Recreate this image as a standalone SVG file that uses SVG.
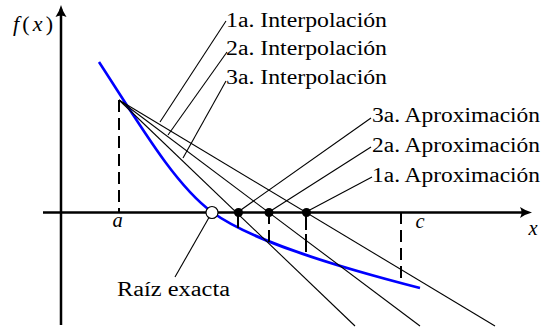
<svg xmlns="http://www.w3.org/2000/svg" width="546" height="327" viewBox="0 0 546 327">
<style>
.axis{stroke:#000;stroke-width:2.5;fill:none}
.thin{stroke:#000;stroke-width:1.1;fill:none}
.dash{stroke:#000;stroke-width:2;fill:none;stroke-dasharray:12 6}
.solidv{stroke:#000;stroke-width:2;fill:none}
.curve{stroke:#0000ff;stroke-width:2.6;fill:none}
.lbl{font-family:"Liberation Serif","DejaVu Serif",serif;font-size:20.5px;fill:#000}
.it{font-style:italic}
.dot{fill:#000}
</style>
<defs>
<marker id="arr" markerUnits="userSpaceOnUse" markerWidth="14" markerHeight="14" refX="8" refY="6" orient="auto">
<path d="M0,0.5 Q6,4.5 12,6 Q6,7.5 0,11.5 Q3,6 0,0.5 Z" fill="#000"/>
</marker>
</defs>
<g id="axes">
<line class="axis" x1="43" y1="212.5" x2="528" y2="212.5" marker-end="url(#arr)"/>
<line class="axis" x1="61" y1="325" x2="61" y2="9" marker-end="url(#arr)"/>
</g>
<g id="curve">
<path class="curve" d="M99,62 C140,125 175,185 212,212 C250,240 330,265 420,288"/>
</g>
<g id="connectors">
<line class="dash" x1="119" y1="100" x2="119" y2="212"/>
<line class="dash" x1="401" y1="212" x2="401" y2="280"/>
<line class="solidv" x1="238" y1="212" x2="238" y2="228"/>
<line class="dash" x1="269" y1="212" x2="269" y2="242"/>
<line class="dash" x1="306" y1="212" x2="306" y2="256" style="stroke-dasharray:18 4"/>
<line class="thin" x1="119" y1="100" x2="495" y2="326"/>
<line class="thin" x1="119" y1="100" x2="420" y2="326"/>
<line class="thin" x1="119" y1="100" x2="355" y2="326"/>
<line class="thin" x1="226" y1="21" x2="160" y2="122"/>
<line class="thin" x1="227" y1="52" x2="168" y2="135"/>
<line class="thin" x1="226" y1="81" x2="183" y2="158"/>
<line class="thin" x1="238" y1="212" x2="371" y2="118"/>
<line class="thin" x1="269" y1="212" x2="371" y2="147"/>
<line class="thin" x1="306" y1="212" x2="372" y2="177"/>
<line class="thin" x1="211" y1="214" x2="175" y2="277"/>
</g>
<g id="points">
<circle class="dot" cx="238.5" cy="212.5" r="4.5"/>
<circle class="dot" cx="269" cy="212.5" r="4.5"/>
<circle class="dot" cx="306.5" cy="212.5" r="4.5"/>
<circle id="root" cx="212" cy="212.5" r="6" fill="#fff" stroke="#000" stroke-width="1.1"/>
</g>
<g id="labels">
<text class="lbl" x="13" y="31" style="font-size:22px" textLength="40" lengthAdjust="spacing"><tspan class="it">f</tspan>(<tspan class="it">x</tspan>)</text>
<text class="lbl it" x="117.5" y="227" text-anchor="middle">a</text>
<text class="lbl it" x="420" y="228" text-anchor="middle">c</text>
<text class="lbl it" x="533" y="235" text-anchor="middle">x</text>
<text class="lbl" x="226" y="27" textLength="161" lengthAdjust="spacingAndGlyphs">1a. Interpolación</text>
<text class="lbl" x="226" y="55" textLength="161" lengthAdjust="spacingAndGlyphs">2a. Interpolación</text>
<text class="lbl" x="226" y="84" textLength="161" lengthAdjust="spacingAndGlyphs">3a. Interpolación</text>
<text class="lbl" x="372" y="122" textLength="168" lengthAdjust="spacingAndGlyphs">3a. Aproximación</text>
<text class="lbl" x="372" y="152" textLength="168" lengthAdjust="spacingAndGlyphs">2a. Aproximación</text>
<text class="lbl" x="372" y="182" textLength="168" lengthAdjust="spacingAndGlyphs">1a. Aproximación</text>
<text class="lbl" x="117" y="296" textLength="113" lengthAdjust="spacingAndGlyphs">Raíz exacta</text>
</g>
</svg>
